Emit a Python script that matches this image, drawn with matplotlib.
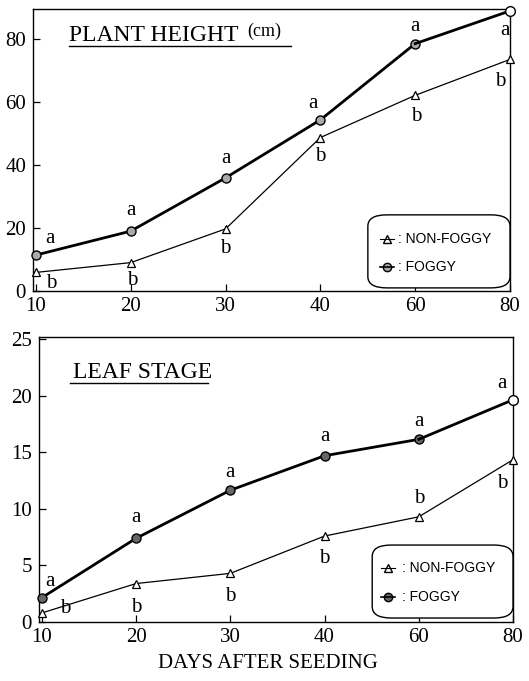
import matplotlib.pyplot as plt
from matplotlib.patches import FancyBboxPatch

# 数据
days = ['10', '20', '30', '40', '60', '80']
height_foggy = [11.4, 19.0, 35.9, 54.3, 78.5, 88.9]
height_nonfoggy = [5.9, 9.0, 19.7, 48.7, 62.1, 73.5]
leaf_foggy = [2.15, 7.4, 11.65, 14.7, 16.15, 19.65]
leaf_nonfoggy = [0.8, 3.4, 4.3, 7.6, 9.3, 14.35]
letters_foggy = ['a', 'a', 'a', 'a', 'a', 'a']
letters_nonfoggy = ['b', 'b', 'b', 'b', 'b', 'b']

# 字母的偏移 (pt)
off_h_a = [(10, 12), (0, 15), (0, 14), (-5, 12), (0, 12), (-4, -14)]
off_h_b = [(11, -8), (1, -13), (0, -14), (0, -14), (1, -15), (-7, -16)]
off_l_a = [(6, 12), (0, 15), (0, 13), (0, 14), (0, 13), (-8, 12)]
off_l_b = [(17, 3), (0, -17), (0, -17), (0, -16), (0, 13), (-8, -17)]

serif = 'Liberation Serif'
sans = 'Liberation Sans'
x = list(range(len(days)))

fig = plt.figure(figsize=(5.29, 6.81), dpi=100)
ax1 = fig.add_axes([33/529, 1-291/681, 477/529, 282/681])
ax2 = fig.add_axes([39/529, 1-622/681, 474/529, 285/681])


def draw(ax, foggy, nonfoggy, off_a, off_b, ylim, yticks, fog_fc):
    ax.plot(x, nonfoggy, color='black', lw=0.9, marker='^', ms=6,
            mfc='white', mec='black', mew=0.9, zorder=3, clip_on=False)
    ax.plot(x[:-1], foggy[:-1], color='black', lw=2.0, marker='o', ms=6.5,
            mfc=fog_fc, mec='black', mew=1.0, zorder=4, clip_on=False)
    ax.plot(x[-2:], foggy[-2:], color='black', lw=2.0, zorder=4)
    ax.plot(x[-1], foggy[-1], marker='o', ms=7, mfc='white', mec='black',
            mew=1.0, zorder=5, clip_on=False)
    for i in x:
        ax.annotate(letters_foggy[i], (i, foggy[i]), xytext=off_a[i],
                    textcoords='offset points', ha='center', va='center',
                    fontsize=15, family=serif)
        ax.annotate(letters_nonfoggy[i], (i, nonfoggy[i]), xytext=off_b[i],
                    textcoords='offset points', ha='center', va='center',
                    fontsize=15, family=serif)
    ax.set_xlim(-0.03, 5.0)
    ax.set_ylim(*ylim)
    ax.set_xticks(x)
    ax.set_xticklabels(days)
    ax.set_yticks(yticks)
    ax.tick_params(direction='in', length=5, width=0.9, labelsize=15)
    ax.tick_params(axis='y', pad=5)
    ax.tick_params(axis='x', pad=4)
    for lab in ax.get_xticklabels() + ax.get_yticklabels():
        lab.set_family(serif)
    for s in ax.spines.values():
        s.set_linewidth(1.0)


draw(ax1, height_foggy, height_nonfoggy, off_h_a, off_h_b, (0, 89.5),
     [0, 20, 40, 60, 80], '#aaaaaa')
draw(ax2, leaf_foggy, leaf_nonfoggy, off_l_a, off_l_b, (0, 25.2),
     [0, 5, 10, 15, 20, 25], '#666666')

# 标题
ax1.text(0.075, 0.885, 'PLANT HEIGHT', transform=ax1.transAxes,
         fontsize=17, family=serif, va='baseline')
ax1.text(0.449, 0.905, '(cm)', transform=ax1.transAxes,
         fontsize=13, family=serif, va='baseline')
ax1.plot([0.075, 0.54], [0.868, 0.868], transform=ax1.transAxes,
         color='black', lw=1.0)
ax2.text(0.072, 0.856, 'LEAF STAGE', transform=ax2.transAxes,
         fontsize=17, family=serif, va='baseline')
ax2.plot([0.066, 0.357], [0.837, 0.837], transform=ax2.transAxes,
         color='black', lw=1.0)


def legend(ax, left, bottom, mx, tx, r1, r2, fog_fc):
    top = 0.27
    box = FancyBboxPatch((left + 0.01, bottom + 0.01), 1.0 - left - 0.02,
                         top - bottom - 0.02,
                         boxstyle='round,pad=0.01,rounding_size=0.04',
                         transform=ax.transAxes, fc='white', ec='black',
                         lw=1.0, zorder=6, clip_on=False)
    ax.add_patch(box)
    ax.plot(mx, r1, marker='^', ms=6, mfc='white', mec='black',
            transform=ax.transAxes, zorder=7)
    ax.plot([mx - 0.015, mx + 0.015], [r1, r1], color='black', lw=0.8,
            transform=ax.transAxes, zorder=7)
    ax.plot(mx, r2, marker='o', ms=6, mfc=fog_fc, mec='black',
            transform=ax.transAxes, zorder=7)
    ax.plot([mx - 0.015, mx + 0.015], [r2, r2], color='black', lw=1.2,
            transform=ax.transAxes, zorder=7)
    ax.text(tx, r1, ': NON-FOGGY', transform=ax.transAxes, fontsize=10,
            family=sans, va='center', zorder=7)
    ax.text(tx, r2, ': FOGGY', transform=ax.transAxes, fontsize=10,
            family=sans, va='center', zorder=7)


legend(ax1, 0.702, 0.011, 0.742, 0.765, 0.184, 0.085, '#aaaaaa')
legend(ax2, 0.703, 0.014, 0.736, 0.765, 0.19, 0.088, '#666666')

fig.text(268/529, 1-664/681, 'DAYS AFTER SEEDING', ha='center', va='center',
         fontsize=15, family=serif)

plt.savefig('out.png', dpi=100)
